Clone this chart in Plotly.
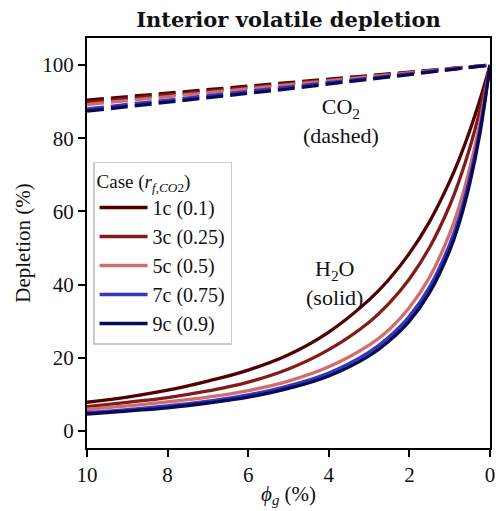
import plotly.graph_objects as go

# ---- data ----
phi = [10, 9, 8, 7, 6, 5, 4, 3, 2.5, 2, 1.5, 1, 0.75, 0.5, 0.25, 0]

h2o_1c = [7.8, 9.2, 11.1, 13.6, 16.6, 20.8, 27.0, 35.8, 41.5, 48.5, 57.2, 68.2, 74.7, 82.1, 90.5, 100]
h2o_3c = [6.6, 7.8, 9.1, 10.9, 13.3, 16.9, 22.2, 29.7, 34.9, 41.5, 50.1, 61.6, 68.9, 77.4, 87.7, 100]
h2o_5c = [5.9, 6.8, 7.9, 9.2, 11.0, 13.6, 17.5, 23.4, 27.7, 33.7, 42.0, 53.9, 61.9, 71.9, 84.3, 100]
h2o_7c = [5.0, 5.8, 6.8, 8.1, 9.8, 12.3, 15.8, 21.5, 25.7, 31.3, 39.3, 51.0, 58.9, 69.2, 82.4, 100]
h2o_9c = [4.6, 5.4, 6.3, 7.6, 9.2, 11.6, 15.0, 20.5, 24.6, 30.0, 37.8, 49.3, 57.3, 67.7, 81.3, 100]

phi_co2 = [10, 5, 0]
co2_1c = [90.4, 95.2, 100]
co2_3c = [89.8, 94.9, 100]
co2_5c = [89.2, 94.6, 100]
co2_7c = [88.0, 93.9, 100]
co2_9c = [87.4, 93.5, 100]

cases = ["1c (0.1)", "3c (0.25)", "5c (0.5)", "7c (0.75)", "9c (0.9)"]
colors = ["#500000", "#821c1c", "#d26d6d", "#3535bd", "#0b0b55"]
h2o = [h2o_1c, h2o_3c, h2o_5c, h2o_7c, h2o_9c]
co2 = [co2_1c, co2_3c, co2_5c, co2_7c, co2_9c]

FONT = "Liberation Serif"
L, R, T, B, W, H = 87, 6, 38, 63, 496, 511
PH = H - T - B

fig = go.Figure()
for name, col, hv, cv in zip(cases, colors, h2o, co2):
    fig.add_trace(go.Scatter(x=phi, y=hv, mode="lines", name=name,
                             line=dict(color=col, width=3.3, shape="spline", smoothing=1.2)))
    fig.add_trace(go.Scatter(x=phi_co2, y=cv, mode="lines", name=name, showlegend=False,
                             line=dict(color=col, width=3.3, dash="17px,7px")))

fig.add_annotation(x=3.7, y=84.7, text="CO<sub>2</sub><br>(dashed)", showarrow=False,
                   font=dict(family=FONT, size=22, color="#111"), align="center")
fig.add_annotation(x=3.87, y=40.5, text="H<sub>2</sub>O<br>(solid)", showarrow=False,
                   font=dict(family=FONT, size=22, color="#111"), align="center")
# x-axis title placed like the reference (slightly overlapping the tick-label band)
fig.add_annotation(xref="paper", yref="paper", x=0.5, y=-(495 - (H - B)) / PH,
                   text="<i>ϕ<sub>g</sub></i> (%)", showarrow=False, yanchor="middle",
                   font=dict(family=FONT, size=21, color="#111"))

fig.update_layout(
    width=W, height=H,
    margin=dict(l=L, r=R, t=T, b=B, autoexpand=False),
    paper_bgcolor="white", plot_bgcolor="white",
    font=dict(family=FONT, size=20, color="#111"),
    title=dict(text="<b>Interior volatile depletion</b>", x=(L + W - R) / 2 / W, xanchor="center",
               y=1 - 20 / H, yanchor="middle", font=dict(family="DejaVu Serif", size=21)),
    showlegend=True,
    legend=dict(x=0.015, y=0.698, xanchor="left", yanchor="top",
                bgcolor="white", bordercolor="#cccccc", borderwidth=1.5,
                font=dict(family=FONT, size=20), itemwidth=48,
                title=dict(text="Case (<i>r</i><sub><i>f,CO</i>2</sub>)",
                           font=dict(family=FONT, size=19))),
)
fig.update_xaxes(range=[10, 0], tickvals=[10, 8, 6, 4, 2, 0], showgrid=False, zeroline=False,
                 automargin=False,
                 showline=True, linecolor="black", linewidth=2, mirror=True,
                 ticks="outside", ticklen=7, tickwidth=2, tickcolor="black",
                 tickfont=dict(family=FONT, size=21))
fig.update_yaxes(range=[-4.7, 107.4], tickvals=[0, 20, 40, 60, 80, 100], showgrid=False, zeroline=False,
                 automargin=False,
                 showline=True, linecolor="black", linewidth=2, mirror=True,
                 ticks="outside", ticklen=7, tickwidth=2, tickcolor="black",
                 tickfont=dict(family=FONT, size=21),
                 title=dict(text="Depletion (%)", standoff=6, font=dict(family=FONT, size=21)))

fig.write_html("out.html", config={"displayModeBar": False},
               post_script="document.body.style.margin='0px';document.body.style.overflow='hidden';")
